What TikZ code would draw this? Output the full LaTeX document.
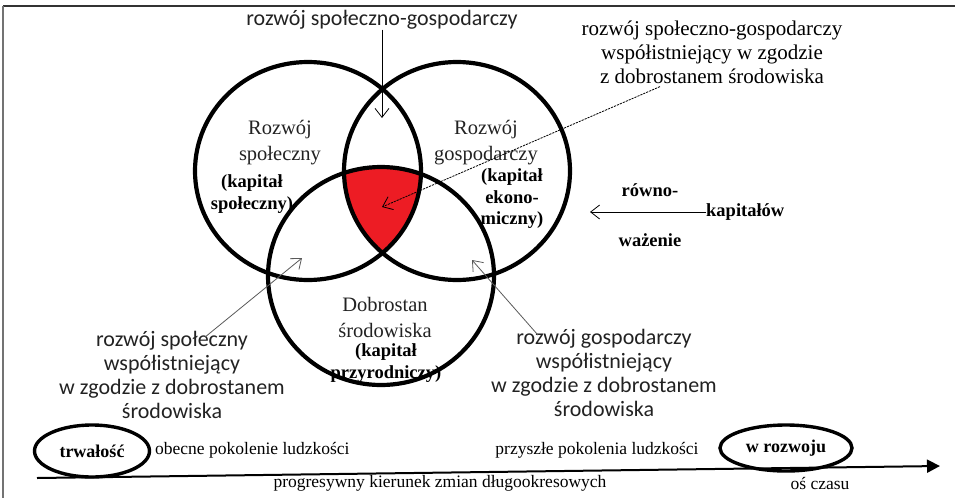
\documentclass[tikz,border=0pt]{standalone}
\usepackage{fontspec}
\setmainfont{Liberation Serif}
\newfontfamily\calibri{Carlito}
\usepackage{xcolor}
\usetikzlibrary{
    arrows.meta,
    shapes.geometric,
    calc
}
\definecolor{venred}{HTML}{ED1C24}
\definecolor{inkgray}{HTML}{222222}

\begin{document}
\begin{tikzpicture}[x=1pt, y=-1pt,
  ring/.style={line width=4.2pt, draw=black},
  inner/.style={inner sep=0pt, align=center, text=inkgray,
    font=\rmfamily\fontsize{20.5}{26}\selectfont},
  capital/.style={inner sep=0pt, align=center, text=black,
    font=\rmfamily\bfseries\fontsize{18.5}{21.5}\selectfont},
  callout/.style={inner sep=0pt, align=center, text=inkgray,
    font=\calibri\fontsize{22}{24}\selectfont},
  narrow/.style={inner sep=0pt, align=center, text=black,
    font=\rmfamily\fontsize{21}{24}\selectfont},
  axislbl/.style={inner sep=0pt, text=black,
    font=\rmfamily\fontsize{17.5}{20}\selectfont},
  oval/.style={ellipse, draw, line width=3.4pt, inner sep=0pt,
    font=\rmfamily\bfseries\fontsize{18}{20}\selectfont},
  ptr/.style={-{Straight Barb[length=9pt, width=14pt]}, line width=0.8pt},
  grayptr/.style={ptr, draw=black!65}
]
\useasboundingbox (0,0) rectangle (955,498);

%% frame
\draw[line width=1.5pt, black!80] (955,6) -- (3,6);
\draw[line width=1.5pt, black!55] (3,6) -- (3,498);

%% red core: all three circles overlap
\begin{scope}
  \clip (308,171) ellipse [x radius=113pt, y radius=109pt];
  \clip (457,171) ellipse [x radius=113pt, y radius=109pt];
  \fill[venred] (381,276) ellipse [x radius=113pt, y radius=109pt];
\end{scope}

%% circles
\draw[ring] (308,171) ellipse [x radius=113pt, y radius=109pt];
\draw[ring] (457,171) ellipse [x radius=113pt, y radius=109pt];
\draw[ring] (381,276) ellipse [x radius=113pt, y radius=109pt];

%% texts in circles
\node[inner] (soc) at (280,143) {Rozwój\\społeczny};
\node[capital] (soccap) at (252,194) {(kapitał\\społeczny)};
\node[inner] (eco) at (486,143) {Rozwój\\gospodarczy};
\node[capital] (ecocap) at (512,199) {(kapitał\\ekono-\\miczny)};
\node[inner] (env) at (385,317) {Dobrostan\\środowiska};
\node[capital] (envcap) at (386,363) {(kapitał\\przyrodniczy)};

%% pointed spots
\coordinate (lensTop)   at (382,118);
\coordinate (core)      at (382,207);
\coordinate (lensLeft)  at (302,258);
\coordinate (lensRight) at (472,260);
\coordinate (rimRight)  at (590,212);

%% callouts
\node[callout] (socEco) at (382,20) {rozwój społeczno-gospodarczy};
\draw[ptr] (socEco.south) -- (lensTop);

\node[narrow] (allThree) at (712,52)
    {rozwój społeczno-gospodarczy\\współistniejący w zgodzie\\z dobrostanem środowiska};
\draw[ptr, dash pattern=on 2.2pt off 1pt] ([xshift=-52pt, yshift=-3pt]allThree.south) -- (core);

\node[callout] (socEnv) at (172,375)
    {rozwój społeczny\\współistniejący\\w zgodzie z dobrostanem\\środowiska};
\draw[grayptr] ([xshift=33pt, yshift=-6pt]socEnv.north) -- (lensLeft);

\node[callout] (ecoEnv) at (604,373)
    {rozwój gospodarczy\\współistniejący\\w zgodzie z dobrostanem\\środowiska};
\draw[grayptr] ([xshift=-66pt, yshift=-6pt]ecoEnv.north) -- (lensRight);

%% balancing of capitals
\node[capital, anchor=west] (kap) at (706,212) {kapitałów};
\node[capital] (rowno) at (650,190) {równo-};
\node[capital] (waz) at (650,240) {ważenie};
\draw[ptr] (kap.west) -- (rimRight);

%% time axis
\coordinate (axStart) at (37,478);
\coordinate (axEnd) at (940,466);
\draw[line width=2pt, -{Triangle[length=13pt, width=13pt]}] (axStart) -- (axEnd);

\node[oval, minimum width=115pt, minimum height=52pt] (trw) at (92,451) {trwałość};
\node[oval, minimum width=132pt, minimum height=46pt] (wrozw) at (786,448) {w rozwoju};
\node[axislbl, anchor=west] (now) at (155,450) {obecne pokolenie ludzkości};
\node[axislbl] (future) at (597,450) {przyszłe pokolenia ludzkości};
\node[axislbl] (dir) at (440,483) {progresywny kierunek zmian długookresowych};
\node[axislbl] (time) at (820,483) {oś czasu};

\end{tikzpicture}
\end{document}
